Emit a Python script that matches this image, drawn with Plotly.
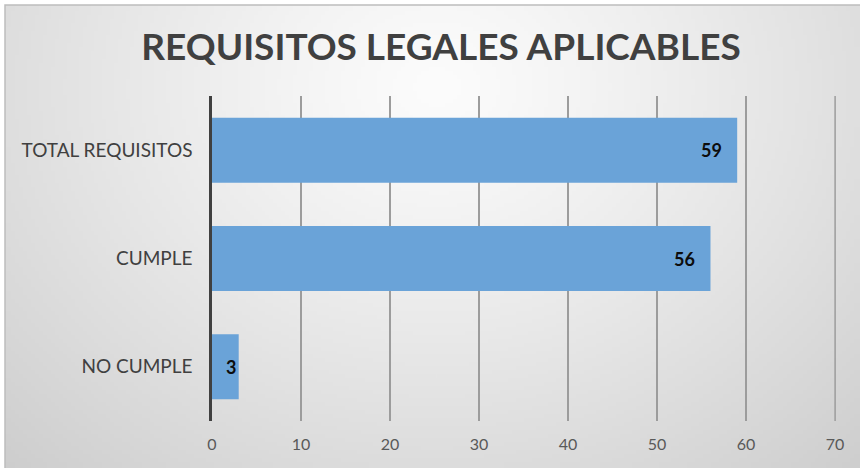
import base64, struct, zlib
import numpy as np
import plotly.graph_objects as go

# ---- data ----
categories = ["NO CUMPLE", "CUMPLE", "TOTAL REQUISITOS"]
values = [3, 56, 59]
x_ticks = [0, 10, 20, 30, 40, 50, 60, 70]
title_text = "REQUISITOS LEGALES APLICABLES"

# ---- layout geometry (pixels) ----
W, H = 860, 468
L, R, T, B = 212, 24, 96, 47
pw, ph = W - L - R, H - T - B


def px_to_paper_x(px):
    return (px - L) / pw


def px_to_paper_y(py):
    return (H - B - py) / ph


# ---- radial gradient background image (style only) ----
def gradient_png(w, h):
    yy, xx = np.mgrid[0:h, 0:w].astype(float)
    sx, sy = 855 / w, 463 / h
    dx = (xx * sx - 430) / 600
    dy = (yy * sy - 80) / 500
    d = np.sqrt(dx ** 2 + dy ** 2)
    v = np.clip(252 - 44 * d ** 1.2, 0, 255).astype(np.uint8)
    rgb = np.stack([v, v, v], axis=-1)
    raw = b"".join(b"\x00" + rgb[r].tobytes() for r in range(h))

    def chunk(tag, data):
        c = struct.pack(">I", len(data)) + tag + data
        return c + struct.pack(">I", zlib.crc32(tag + data) & 0xFFFFFFFF)

    png = b"\x89PNG\r\n\x1a\n"
    png += chunk(b"IHDR", struct.pack(">IIBBBBB", w, h, 8, 2, 0, 0, 0))
    png += chunk(b"IDAT", zlib.compress(raw, 9))
    png += chunk(b"IEND", b"")
    return "data:image/png;base64," + base64.b64encode(png).decode()


bg_x0, bg_x1 = px_to_paper_x(5), px_to_paper_x(860)
bg_y0, bg_y1 = px_to_paper_y(468), px_to_paper_y(5)

fig = go.Figure()
fig.add_trace(go.Bar(
    y=categories, x=values, orientation="h",
    marker=dict(color="#6AA3D8", line=dict(width=0)),
    hoverinfo="skip",
))

annotations = []
for c, v in zip(categories, values):
    shift = -13 if v > 10 else -1
    annotations.append(dict(
        x=v, y=c, xref="x", yref="y", text=str(v), showarrow=False,
        xanchor="right", yanchor="middle", xshift=shift,
        font=dict(family="Lato", size=18, color="#0d0d0d", weight="bold"),
    ))

fig.update_layout(
    width=W, height=H,
    margin=dict(l=L, r=R, t=T, b=B),
    paper_bgcolor="white",
    plot_bgcolor="rgba(0,0,0,0)",
    showlegend=False,
    bargap=0.4,
    title=dict(
        text="<b>" + title_text + "</b>",
        x=441 / W, xref="container", xanchor="center",
        y=1 - 47 / H, yref="container", yanchor="middle",
        font=dict(family="Lato", size=37, color="#404040"),
    ),
    xaxis=dict(
        range=[0, 70.1], tickvals=x_ticks, ticktext=[str(t) for t in x_ticks],
        showgrid=True, gridcolor="#9c9c9c", gridwidth=1.5,
        zeroline=False, showline=False, ticks="",
        tickfont=dict(family="Lato", size=16, color="#595959"),
        ticklabelstandoff=12, fixedrange=True,
    ),
    yaxis=dict(
        categoryorder="array", categoryarray=categories,
        showgrid=False, zeroline=False,
        showline=True, linecolor="#404040", linewidth=2.5,
        ticks="", ticklabelstandoff=13,
        tickfont=dict(family="Lato", size=19, color="#404040"),
        fixedrange=True,
    ),
    annotations=annotations,
    images=[dict(
        source=gradient_png(215, 116), xref="paper", yref="paper",
        x=bg_x0, y=bg_y1, sizex=bg_x1 - bg_x0, sizey=bg_y1 - bg_y0,
        xanchor="left", yanchor="top", sizing="stretch", layer="below",
    )],
    shapes=[
        dict(
            type="rect", xref="paper", yref="paper",
            x0=bg_x0, x1=bg_x1 + 0.01, y0=bg_y0 - 0.01, y1=bg_y1,
            line=dict(color="#bdbdbd", width=1.5), fillcolor="rgba(0,0,0,0)",
            layer="below",
        ),
        dict(
            type="line", xref="x", yref="paper",
            x0=x_ticks[-1], x1=x_ticks[-1], y0=0, y1=1,
            line=dict(color="#9c9c9c", width=1.5), layer="below",
        ),
    ],
)

fig.write_html(
    "out.html",
    config={"displayModeBar": False},
    post_script="document.body.style.margin='0';document.body.style.padding='0';",
)
